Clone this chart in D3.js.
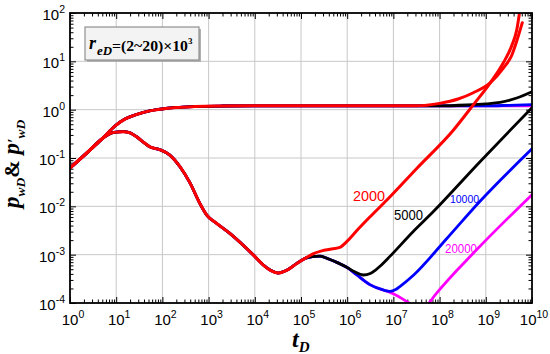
<!DOCTYPE html>
<html><head><meta charset="utf-8">
<script src="https://cdn.jsdelivr.net/npm/d3@7"></script>
<style>body{margin:0;background:#fff} svg{display:block}</style>
</head><body><svg id="c" width="550" height="354"></svg>
<script>
// ---------- data (tD, value) ----------
const xTickExps = [0,1,2,3,4,5,6,7,8,9,10];
const yTickExps = [-4,-3,-2,-1,0,1,2];
const reDLabels = ["2000","5000","10000","20000"];

// pressure pwD
const pressureCommon = [[1,0.062],[2.29,0.126],[5.13,0.257],[9.33,0.457],[15.8,0.646],[27.5,0.794],[50,0.933],[89,1.02],[200,1.11],[500,1.16],[2000,1.19],[1e4,1.2],[1e6,1.2],[3.16e7,1.2]];
const pressure2000Tail = [[1e8,1.35],[2.51e8,1.66],[5.37e8,2.24],[1.26e9,3.63],[2.4e9,7.24],[3.63e9,13.2],[4.68e9,26.3],[6.17e9,63]];
const pressure5000Tail = [[1e8,1.2],[3.89e8,1.25],[1e9,1.32],[2.04e9,1.41],[4.68e9,1.74],[1e10,2.34]];
const pressure10000Tail = [[1e9,1.2],[3.16e9,1.23],[1e10,1.27]];
const pressure20000Tail = [[1e9,1.2],[1e10,1.2]];

// derivative p'wD
const derivCommon = [[1,0.062],[2.29,0.126],[5.13,0.257],[8.91,0.339],[14.1,0.351],[20,0.331],[27.5,0.275],[39.8,0.209],[53.7,0.17],[89.1,0.148],[145,0.115],[240,0.066],[398,0.0302],[646,0.0115],[912,0.0066],[1480,0.00447],[2880,0.00275],[9330,0.00098],[15100,0.000617],[22400,0.000468],[32400,0.000417],[50100,0.000479],[81300,0.00066],[126000,0.00085]];
const deriv2000Tail = [[1.86e5,1.05e-3],[2.82e5,1.2e-3],[4.27e5,1.29e-3],[6.92e5,1.41e-3],[1e6,1.9e-3],[1.62e6,3.16e-3],[3.09e6,6e-3],[7.24e6,1.35e-2],[3.16e7,0.06],[2e8,0.38],[5.37e8,1.26],[1.26e9,3.63],[2.4e9,9.33],[3.63e9,20.9],[4.68e9,44.7],[5.5e9,120]];
const deriv5000Branch = [[1.78e5,9.12e-4],[2.57e5,9.33e-4],[3.98e5,8.13e-4],[6.31e5,6.76e-4],[9.77e5,5.5e-4]];
const deriv5000Tail = [[1.41e6,4.47e-4],[2.24e6,3.8e-4],[3.16e6,4.07e-4],[3.98e6,4.68e-4],[5.13e6,5.75e-4],[8.51e6,9.33e-4],[2.69e7,3.02e-3],[6.17e7,6.6e-3],[7.41e8,8.3e-2],[1e10,1.1]];
const deriv10000Branch = [[1.62e6,3.8e-4],[3.09e6,2.4e-4],[6.03e6,1.86e-4]];
const deriv10000Tail = [[8.51e6,1.74e-4],[1.12e7,1.9e-4],[1.38e7,2.19e-4],[2.75e7,3.8e-4],[1.45e8,2.19e-3],[7.41e8,1.26e-2],[1e10,0.155]];
const deriv20000Tail = [[8.51e6,1.66e-4],[1.26e7,1.38e-4],[1.95e7,1.07e-4],[2.82e7,8.5e-5],[3.98e7,7.6e-5],[5.62e7,9.5e-5],[7.94e7,1.45e-4],[6.31e8,1.26e-3],[1e10,0.0174]];

// ---------- layout / style ----------
const colors = {"2000":"#ff0000","5000":"#000000","10000":"#0000ff","20000":"#ff00ff"};
const L=70,R=532,T=13,B=303;
const svg = d3.select("#c");
const x = d3.scaleLog().domain([1,1e10]).range([L,R]);
const y = d3.scaleLog().domain([1e-4,1e2]).range([B,T]);

const series = {
  "2000":  {p: pressureCommon.concat(pressure2000Tail),  d: derivCommon.concat(deriv2000Tail)},
  "5000":  {p: pressureCommon.concat(pressure5000Tail),  d: derivCommon.concat(deriv5000Branch, deriv5000Tail)},
  "10000": {p: pressureCommon.concat(pressure10000Tail), d: derivCommon.concat(deriv5000Branch, deriv10000Branch, deriv10000Tail)},
  "20000": {p: pressureCommon.concat(pressure20000Tail), d: derivCommon.concat(deriv5000Branch, deriv10000Branch, deriv20000Tail)}
};

const majorsX = xTickExps.map(e=>Math.pow(10,e));
const majorsY = yTickExps.map(e=>Math.pow(10,e));
const minorsX=[], minorsY=[];
for (let e=0;e<10;e++) for(let k=2;k<10;k++) minorsX.push(k*Math.pow(10,e));
for (let e=-4;e<2;e++) for(let k=2;k<10;k++) minorsY.push(k*Math.pow(10,e));

// grid
const grid = svg.append("g").attr("stroke","#c8c8c8").attr("stroke-width",1);
majorsX.slice(1,-1).forEach(v=>grid.append("line").attr("x1",x(v)).attr("x2",x(v)).attr("y1",T).attr("y2",B));
majorsY.slice(1,-1).forEach(v=>grid.append("line").attr("y1",y(v)).attr("y2",y(v)).attr("x1",L).attr("x2",R));

// axes ticks (inward, all four sides)
function axisG(axisFn, scale, vals, size, tr){
  const g = svg.append("g").attr("transform",tr)
    .call(axisFn(scale).tickValues(vals).tickSize(size).tickFormat(""));
  g.select(".domain").remove();
  g.selectAll("line").attr("stroke","#000").attr("stroke-width",1);
}
axisG(d3.axisBottom,x,majorsX,-6,`translate(0,${B})`);
axisG(d3.axisBottom,x,minorsX,-3.5,`translate(0,${B})`);
axisG(d3.axisTop,x,majorsX,-6,`translate(0,${T})`);
axisG(d3.axisTop,x,minorsX,-3.5,`translate(0,${T})`);
axisG(d3.axisLeft,y,majorsY,-6,`translate(${L},0)`);
axisG(d3.axisLeft,y,minorsY,-3.5,`translate(${L},0)`);
axisG(d3.axisRight,y,majorsY,-6,`translate(${R},0)`);
axisG(d3.axisRight,y,minorsY,-3.5,`translate(${R},0)`);

// curves
svg.append("clipPath").attr("id","clip").append("rect").attr("x",L).attr("y",T).attr("width",R-L).attr("height",B-T);
const line = d3.line().x(d=>x(d[0])).y(d=>y(d[1])).curve(d3.curveMonotoneX);
const cg = svg.append("g").attr("clip-path","url(#clip)");
["20000","10000","5000","2000"].forEach(k=>{
  ["p","d"].forEach(t=>{
    cg.append("path").attr("d",line(series[k][t])).attr("fill","none")
      .attr("stroke",colors[k]).attr("stroke-width",k==="2000"?3:2.8)
      .attr("stroke-linejoin","round").attr("stroke-linecap","round");
  });
});

// frame
svg.append("rect").attr("x",L).attr("y",T).attr("width",R-L).attr("height",B-T)
  .attr("fill","none").attr("stroke","#000").attr("stroke-width",1.8);

// tick labels
const tf = "'Liberation Sans', Arial, sans-serif";
xTickExps.forEach(e=>{
  const t = svg.append("text").attr("x",x(Math.pow(10,e))+ (e>=10?2:3)).attr("y",325)
    .attr("text-anchor","middle").attr("font-family",tf).attr("font-size",15).attr("fill","#000");
  t.append("tspan").text("10");
  t.append("tspan").attr("dy",-7).attr("font-size",10.5).text(String(e));
});
yTickExps.forEach(e=>{
  const t = svg.append("text").attr("x",65).attr("y",y(Math.pow(10,e))+7)
    .attr("text-anchor","end").attr("font-family",tf).attr("font-size",15).attr("fill","#000");
  t.append("tspan").text("10");
  t.append("tspan").attr("dy",-7).attr("font-size",10.5).text(e<0?"-"+(-e):String(e));
});

// curve labels
const labelPos = {"2000":[353,201,14,32],"5000":[394,220,14,29],"10000":[450,203,10.7,29],"20000":[445,253,13,32]};
reDLabels.forEach(k=>{
  const p = labelPos[k];
  svg.append("text").attr("x",p[0]).attr("y",p[1]).attr("font-family",tf).attr("font-size",p[2])
    .attr("textLength",p[3]).attr("lengthAdjust","spacingAndGlyphs").attr("fill",colors[k]).text(k);
});

// legend box
const sf = "'Liberation Serif', 'Times New Roman', serif";
svg.append("rect").attr("x",87).attr("y",29).attr("width",114).attr("height",33).attr("fill","#b0b0b0");
svg.append("rect").attr("x",85).attr("y",27).attr("width",114).attr("height",33).attr("fill","#f3f3f3").attr("stroke","#909090").attr("stroke-width",1.2);
svg.append("text").attr("x",89).attr("y",49).attr("font-family",sf).attr("font-size",18).attr("font-weight","bold").attr("font-style","italic").text("r");
svg.append("text").attr("x",97).attr("y",55).attr("font-family",sf).attr("font-size",13).attr("font-weight","bold").attr("font-style","italic").attr("textLength",15).attr("lengthAdjust","spacingAndGlyphs").text("eD");
svg.append("text").attr("x",112).attr("y",51).attr("font-family",sf).attr("font-size",14).attr("font-weight","bold").attr("textLength",76).attr("lengthAdjust","spacingAndGlyphs").text("=(2~20)×10");
svg.append("text").attr("x",188).attr("y",43.5).attr("font-family",sf).attr("font-size",9).attr("font-weight","bold").text("3");

// y title
const yt = svg.append("text").attr("transform","translate(19,208) rotate(-90)")
  .attr("font-family",sf).attr("font-weight","bold").attr("fill","#000");
yt.append("tspan").attr("font-size",23).attr("font-style","italic").text("p");
yt.append("tspan").attr("font-size",13.5).attr("font-style","italic").attr("dy",6).text("wD");
yt.append("tspan").attr("font-size",21).attr("dy",-6).text("&");
yt.append("tspan").attr("font-size",23).attr("font-style","italic").text(" p");
yt.append("tspan").attr("font-size",16).attr("font-style","italic").text("′");
yt.append("tspan").attr("font-size",13.5).attr("font-style","italic").attr("dy",6).text("wD");

// x title
const xt = svg.append("text").attr("x",292).attr("y",347).attr("font-family",sf).attr("font-weight","bold").attr("font-style","italic");
xt.append("tspan").attr("font-size",24).text("t");
xt.append("tspan").attr("font-size",15).attr("dy",5).text("D");
</script></body></html>
